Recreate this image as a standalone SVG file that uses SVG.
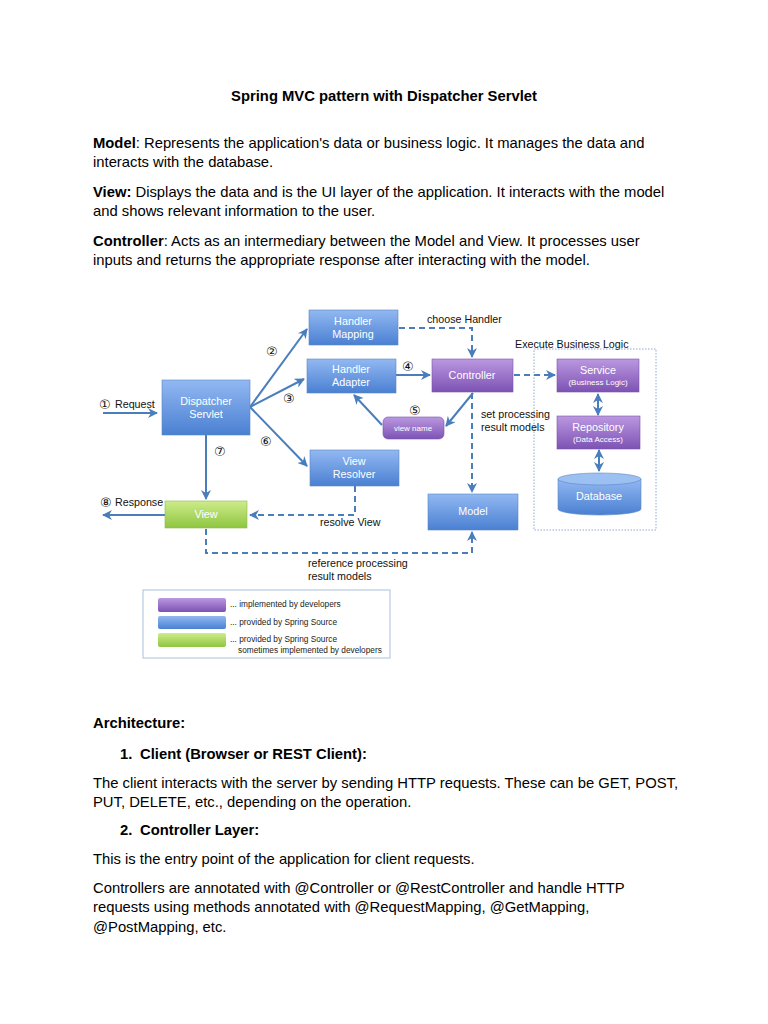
<svg xmlns="http://www.w3.org/2000/svg" width="768" height="1024" viewBox="0 0 768 1024">
<defs>
<linearGradient id="gBlue" x1="0" y1="0" x2="0" y2="1"><stop offset="0" stop-color="#92b8f2"/><stop offset="1" stop-color="#4a80d2"/></linearGradient>
<linearGradient id="gPurple" x1="0" y1="0" x2="0" y2="1"><stop offset="0" stop-color="#bb98e0"/><stop offset="1" stop-color="#7d52b4"/></linearGradient>
<linearGradient id="gGreen" x1="0" y1="0" x2="0" y2="1"><stop offset="0" stop-color="#cdec8a"/><stop offset="1" stop-color="#8fc540"/></linearGradient>
<marker id="ah" viewBox="0 0 10 10" refX="9" refY="5" markerWidth="5" markerHeight="5" orient="auto-start-reverse"><path d="M0,0 L10,5 L0,10 L3,5 z" fill="#4a7ebb"/></marker>
<style>
.body{font-family:"Liberation Sans",Arial,sans-serif;font-size:14.8px;fill:#000}
.b{font-weight:bold}
.box{stroke:#5a86c4;stroke-width:0.6}
.bt{font-family:"Liberation Sans",Arial,sans-serif;font-size:10.8px;fill:#fff;text-anchor:middle}
.st{font-family:"Liberation Sans",Arial,sans-serif;font-size:8px;fill:#fff;text-anchor:middle}
.lbl{font-family:"Liberation Sans",Arial,sans-serif;font-size:10.7px;fill:#111}
.num{font-family:"DejaVu Sans",sans-serif;font-size:13px;fill:#111}
.leg{font-family:"Liberation Sans",Arial,sans-serif;font-size:8.3px;fill:#222}
.ln{fill:none;stroke:#4a7ebb;stroke-width:2}
.dl{fill:none;stroke:#4a7ebb;stroke-width:2;stroke-dasharray:6 4}
</style>
</defs>
<rect width="768" height="1024" fill="#fff"/>

<g id="text-top">
<text class="body b" x="384" y="101" text-anchor="middle">Spring MVC pattern with Dispatcher Servlet</text>
<text class="body" x="93" y="148"><tspan class="b">Model</tspan>: Represents the application's data or business logic. It manages the data and</text>
<text class="body" x="93" y="167">interacts with the database.</text>
<text class="body" x="93" y="197"><tspan class="b">View:</tspan> Displays the data and is the UI layer of the application. It interacts with the model</text>
<text class="body" x="93" y="216">and shows relevant information to the user.</text>
<text class="body" x="93" y="246"><tspan class="b">Controller</tspan>: Acts as an intermediary between the Model and View. It processes user</text>
<text class="body" x="93" y="265">inputs and returns the appropriate response after interacting with the model.</text>
</g>

<g id="connectors">
<line class="ln" x1="103" y1="413" x2="157" y2="413" marker-end="url(#ah)"/>
<line class="ln" x1="250" y1="407" x2="307" y2="329" marker-end="url(#ah)"/>
<line class="ln" x1="250" y1="407" x2="304" y2="379" marker-end="url(#ah)"/>
<line class="ln" x1="250" y1="407" x2="307" y2="466" marker-end="url(#ah)"/>
<line class="ln" x1="206" y1="435" x2="206" y2="499" marker-end="url(#ah)"/>
<line class="ln" x1="165" y1="515" x2="103" y2="515" marker-end="url(#ah)"/>
<line class="ln" x1="396" y1="375" x2="430" y2="375" marker-end="url(#ah)"/>
<path class="dl" d="M399,328 H472 V357" marker-end="url(#ah)"/>
<line class="ln" x1="473" y1="393" x2="446" y2="426" marker-end="url(#ah)"/>
<line class="ln" x1="382" y1="425" x2="354" y2="395" marker-end="url(#ah)"/>
<path class="dl" d="M472,393 V492" marker-end="url(#ah)"/>
<path class="dl" d="M514,375 H555" marker-end="url(#ah)"/>
<line class="ln" x1="598" y1="394" x2="598" y2="415" marker-start="url(#ah)" marker-end="url(#ah)"/>
<line class="ln" x1="599" y1="450" x2="599" y2="471" marker-start="url(#ah)" marker-end="url(#ah)"/>
<path class="dl" d="M355,486 V515 H250" marker-end="url(#ah)"/>
<path class="dl" d="M206,529 V553 H472 V532" marker-end="url(#ah)"/>
</g>

<g id="labels">
<text class="num" x="99" y="409">①</text><text class="lbl" x="115" y="408">Request</text>
<text class="num" x="266" y="356">②</text>
<text class="num" x="283" y="403">③</text>
<text class="num" x="402" y="371">④</text>
<text class="num" x="409" y="415">⑤</text>
<text class="num" x="260" y="446">⑥</text>
<text class="num" x="214" y="456">⑦</text>
<text class="num" x="100" y="507">⑧</text><text class="lbl" x="115" y="506">Response</text>
<text class="lbl" x="427" y="323">choose Handler</text>
<text class="lbl" x="515" y="348">Execute Business Logic</text>
<text class="lbl" x="481" y="418">set processing</text>
<text class="lbl" x="481" y="431">result models</text>
<text class="lbl" x="320" y="526">resolve View</text>
<text class="lbl" x="308" y="567">reference processing</text>
<text class="lbl" x="308" y="580">result models</text>
</g>

<g id="business-logic-group">
<rect x="534" y="349" width="122" height="181" fill="none" stroke="#6f94c8" stroke-width="0.8" stroke-dasharray="1.5 1.5"/>
</g>

<g id="dispatcher-servlet">
<rect class="box" x="162" y="380" width="88" height="55" fill="url(#gBlue)"/>
<text class="bt" x="206" y="405">Dispatcher</text><text class="bt" x="206" y="418">Servlet</text>
</g>
<g id="handler-mapping">
<rect class="box" x="309" y="310" width="89" height="35" fill="url(#gBlue)"/>
<text class="bt" x="353" y="325">Handler</text><text class="bt" x="353" y="338">Mapping</text>
</g>
<g id="handler-adapter">
<rect class="box" x="307" y="359" width="89" height="34" fill="url(#gBlue)"/>
<text class="bt" x="351" y="373">Handler</text><text class="bt" x="351" y="386">Adapter</text>
</g>
<g id="view-resolver">
<rect class="box" x="310" y="450" width="89" height="36" fill="url(#gBlue)"/>
<text class="bt" x="354" y="465">View</text><text class="bt" x="354" y="478">Resolver</text>
</g>
<g id="view">
<rect x="165" y="501" width="82" height="27" fill="url(#gGreen)" stroke="#8fb850" stroke-width="0.6"/>
<text class="bt" x="206" y="518">View</text>
</g>
<g id="controller">
<rect x="432" y="359" width="81" height="33" fill="url(#gPurple)" stroke="#7a55aa" stroke-width="0.6"/>
<text class="bt" x="472" y="379">Controller</text>
</g>
<g id="view-name">
<rect x="383" y="417" width="61" height="22" rx="5" fill="url(#gPurple)" stroke="#7a55aa" stroke-width="0.6"/>
<text class="st" x="413" y="431">view name</text>
</g>
<g id="model">
<rect class="box" x="428" y="494" width="90" height="36" fill="url(#gBlue)"/>
<text class="bt" x="473" y="515">Model</text>
</g>
<g id="service">
<rect x="557" y="359" width="82" height="33" fill="url(#gPurple)" stroke="#7a55aa" stroke-width="0.6"/>
<text class="bt" x="598" y="374">Service</text><text class="st" x="598" y="385">(Business Logic)</text>
</g>
<g id="repository">
<rect x="557" y="416" width="83" height="33" fill="url(#gPurple)" stroke="#7a55aa" stroke-width="0.6"/>
<text class="bt" x="598" y="431">Repository</text><text class="st" x="598" y="442">(Data Access)</text>
</g>
<g id="database">
<path d="M558,479 V509 A41.5,6 0 0 0 641,509 V479 Z" fill="url(#gBlue)" stroke="#5a86c4" stroke-width="0.6"/>
<ellipse cx="599.5" cy="479" rx="41.5" ry="6" fill="#9cc0f2" stroke="#5a86c4" stroke-width="0.6"/>
<text class="bt" x="599" y="500">Database</text>
</g>

<g id="legend">
<rect x="143" y="590" width="247" height="68" fill="#fff" stroke="#a9c0dc" stroke-width="1"/>
<rect x="158" y="598" width="68" height="14" rx="2" fill="url(#gPurple)"/>
<rect x="158" y="616" width="68" height="13" rx="2" fill="url(#gBlue)"/>
<rect x="158" y="633" width="68" height="14" rx="2" fill="url(#gGreen)"/>
<text class="leg" x="230" y="607">... implemented by developers</text>
<text class="leg" x="230" y="625">... provided by Spring Source</text>
<text class="leg" x="230" y="642">... provided by Spring Source</text>
<text class="leg" x="238" y="653">sometimes implemented by developers</text>
</g>

<g id="text-bottom">
<text class="body b" x="93" y="728">Architecture:</text>
<text class="body b" x="120" y="759">1.</text><text class="body b" x="140" y="759">Client (Browser or REST Client):</text>
<text class="body" x="93" y="788">The client interacts with the server by sending HTTP requests. These can be GET, POST,</text>
<text class="body" x="93" y="807">PUT, DELETE, etc., depending on the operation.</text>
<text class="body b" x="120" y="835">2.</text><text class="body b" x="140" y="835">Controller Layer:</text>
<text class="body" x="93" y="864">This is the entry point of the application for client requests.</text>
<text class="body" x="93" y="893">Controllers are annotated with @Controller or @RestController and handle HTTP</text>
<text class="body" x="93" y="912">requests using methods annotated with @RequestMapping, @GetMapping,</text>
<text class="body" x="93" y="932">@PostMapping, etc.</text>
</g>
</svg>
